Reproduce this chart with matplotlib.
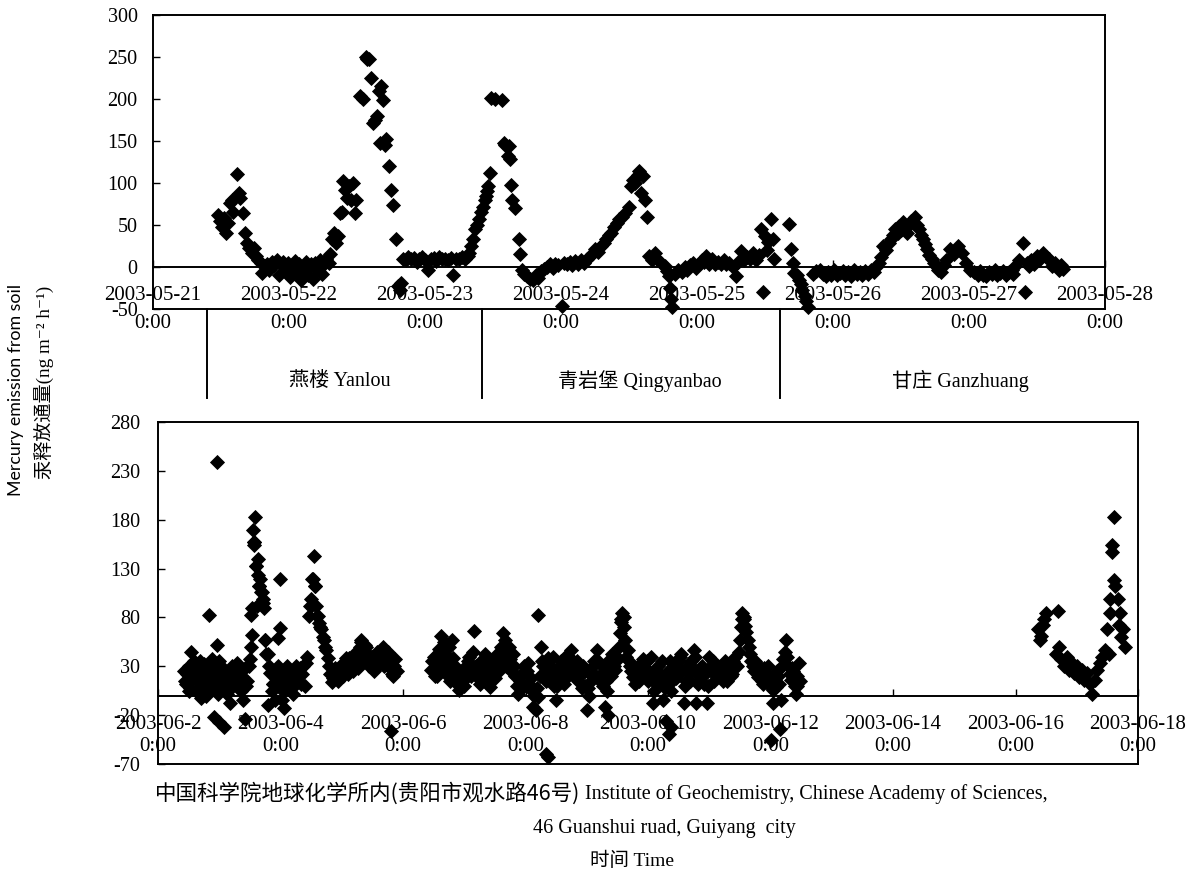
import matplotlib
matplotlib.use('Agg')
import matplotlib.pyplot as plt
import matplotlib.transforms as mtransforms
import pandas as pd

plt.rcParams['font.family'] = ['Liberation Serif', 'Noto Sans CJK SC', 'DejaVu Sans']
plt.rcParams['axes.unicode_minus'] = False

# ---------------- 上图: 三个站点 (小时, 自 2003-05-21 0:00 起) ----------------
top_start = pd.Timestamp('2003-05-21')

yanlou_h = [11.5, 11.8, 12.2, 12.5, 12.8, 13.2, 13.6, 13.9, 14.2, 14.8, 15.1, 15.4, 15.8, 16.2, 16.6,
            17.0, 17.4, 17.8, 18.2, 18.6, 19.0, 19.3, 19.7, 20.1, 20.5, 21.0, 21.4, 21.8, 22.2, 22.6,
            23.0, 23.4, 23.8, 24.2, 24.6, 25.0, 25.4, 25.8, 26.2, 26.6, 27.0, 27.4, 27.8, 28.2, 28.6,
            29.0, 29.4, 29.8, 30.2, 30.6, 31.0, 31.3, 31.6, 32.0, 32.3, 32.6, 33.0, 33.3, 33.6, 33.9,
            34.2, 34.6, 34.9, 35.3, 35.6, 35.9, 36.6, 37.0, 37.5, 37.8, 38.2, 38.5, 38.9, 39.2, 39.5,
            39.8, 40.0, 40.3, 40.6, 40.9, 41.2, 41.6, 42.0, 42.3, 42.8, 43.2, 43.5, 43.8, 44.2, 44.6,
            45.0, 45.5, 46.0, 46.5, 47.0, 47.5, 48.0, 48.5, 49.0, 49.5, 50.0, 50.5, 51.0, 51.5, 52.0,
            52.5, 53.0, 53.5, 54.0, 54.5, 55.0, 55.5, 55.8, 56.2, 56.5, 56.9, 57.2, 57.5, 57.8]
yanlou_v = [62, 55, 48, 58, 41, 52, 76, 80, 66, 111, 88, 82, 64, 41, 29,
            23, 17, 23, 13, 8, 5, -7, 1, 4, -3, 6, 2, 8, -10, 3,
            6, -4, 5, -12, 2, 7, -6, 4, -15, 0, 6, -10, 3, -14, 5,
            -4, 8, -8, 3, 10, 5, 15, 33, 41, 28, 37, 64, 66, 102, 92,
            82, 96, 80, 100, 64, 80, 203, 200, 250, 248, 248, 225, 171, 175, 180,
            209, 148, 215, 199, 145, 152, 120, 92, 74, 33, -23, -27, -19, 10, 8,
            12, 9, 11, 6, 10, 12, 8, -3, 10, 11, 7, 12, 9, 10, 8,
            11, -9, 10, 9, 12, 10, 13, 17, 25, 33, 45, 50, 57, 65]

qingyanbao_h = [58.2, 58.5, 58.7, 59.0, 59.2, 59.5, 59.6, 60.3, 61.6, 61.9, 62.2, 62.6, 62.9, 63.0, 63.1,
                63.4, 63.9, 64.5, 64.8, 65.1, 65.5, 66.0, 66.5, 67.1, 67.6, 68.0, 68.5, 69.0, 69.5, 70.0,
                70.5, 71.0, 71.5, 72.1, 72.5, 73.0, 73.5, 74.0, 74.5, 75.0, 75.5, 76.0, 76.5, 77.0, 77.5,
                78.0, 78.5, 79.0, 79.5, 80.0, 80.5, 80.9, 81.3, 81.8, 82.3, 82.8, 83.3, 84.0, 84.4, 84.7,
                85.1, 85.5, 85.8, 86.2, 86.5, 86.8, 87.2, 87.5, 88.0, 88.6, 89.0, 89.6, 90.3, 90.7, 91.0,
                91.2, 91.4, 91.6, 92.2, 92.7, 93.3, 93.8, 94.3, 94.8, 95.3, 95.8, 96.3, 96.8, 97.2, 97.6,
                98.1, 98.6, 99.1, 99.7, 100.2, 100.7, 101.2, 101.7, 102.3, 102.8, 103.3, 103.8, 104.3, 104.8, 105.4,
                105.9, 106.4, 106.9, 107.3, 107.6, 108.0, 108.3, 108.6, 109.0, 109.4, 109.6]
qingyanbao_v = [72, 80, 84, 90, 96, 112, 201, 200, 199, 148, 145, 132, 144, 128, 98,
                80, 70, 33, 15, -3, -8, -11, -14, -15, -10, -13, -5, -2, 0, 3,
                -1, 4, 2, -46, 5, 3, 6, 2, 7, 4, 8, 5, 10, 12, 16,
                21, 18, 25, 29, 33, 38, 41, 48, 52, 57, 60, 64, 72, 96, 104,
                100, 110, 114, 88, 108, 80, 59, 13, 8, 17, 10, 5, 1, -5, -11,
                -25, -38, -48, -8, -3, -6, 0, -4, 2, 5, -1, 4, 8, 6, 13,
                4, 9, 3, 6, 4, 8, 3, 5, 0, -11, 6, 19, 8, 12, 10,
                17, 8, 14, 45, -30, 37, 20, 30, 57, 33, 9]

ganzhuang_h = [112.2, 112.5, 112.9, 113.2, 113.6, 114.0, 114.3, 114.6, 115.0, 115.3, 115.6, 116.5, 117.0, 117.7, 118.2,
               118.7, 119.2, 119.7, 120.2, 120.7, 121.2, 121.7, 122.2, 122.7, 123.2, 123.7, 124.2, 124.7, 125.2, 125.7,
               126.2, 126.7, 127.2, 127.6, 128.1, 128.5, 128.8, 129.3, 129.8, 130.3, 130.6, 131.0, 131.4, 131.7, 132.0,
               132.3, 132.7, 133.0, 133.4, 133.8, 134.4, 134.8, 135.1, 135.5, 135.8, 136.2, 136.5, 137.0, 137.4, 137.9,
               138.3, 138.6, 139.0, 139.5, 140.0, 140.7, 141.4, 142.1, 142.8, 143.5, 144.2, 144.9, 145.5, 146.0, 146.5,
               147.0, 147.5, 148.0, 148.5, 149.0, 149.5, 150.0, 150.5, 151.0, 151.5, 151.8, 152.1, 152.8, 153.5, 153.9,
               154.2, 154.6, 155.0, 155.5, 156.0, 156.5, 157.0, 157.5, 158.1, 158.7, 159.2, 159.8, 160.2, 160.5]
ganzhuang_v = [51, 21, 5, -7, -10, -15, -20, -27, -35, -40, -48, -8, -5, -3, -8,
               -11, -6, -9, -4, -10, -7, -5, -9, -6, -11, -4, -8, -6, -10, -5,
               -8, -3, -6, 0, 5, 12, 25, 20, 28, 33, 38, 45, 40, 49, 44,
               53, 48, 41, 50, 55, 59, 50, 45, 38, 33, 27, 21, 14, 9, 5,
               0, -3, -6, 2, 8, 21, 15, 25, 17, 5, -3, -6, -10, -5, -9,
               -11, -6, -8, -4, -10, -7, -5, -9, -6, -3, -8, 1, 8, 29, -30,
               5, 1, 8, 4, 13, 10, 17, 12, 9, 1, 5, -3, 2, -2]

stations = ['燕楼 Yanlou', '青岩堡 Qingyanbao', '甘庄 Ganzhuang']
station_edges_h = [9.5, 58.0, 110.6]
station_label_h = [33.0, 85.9, 142.4]

# ---------------- 下图: 地球化学所 (逐时/半时观测 + 离散点, 天, 自 2003-06-02 0:00 起) ----------------
low_start = pd.Timestamp('2003-06-02')

seg_a_start = '2003-06-02 10:00'
seg_a = [25, 12, 30, 18, 35, 5, 25, 10, 32, 0, 20, 8, 28, 15, 35, 10, 25, 2, 18, 30,
         12, 33, 20, 8, 28, 15, 37, 62, 183, 140, 119, 95, 57, 43, 23, 12, -5, 30, 19, 5,
         28, 10, 22, 2, 30, 15, 12, 30, 33, 81, 99, 143, 92, 74, 68, 57, 47, 30, 14, 22,
         19, 28, 24, 33, 28, 38, 30, 42, 35, 50, 40, 52, 38, 30, 40, 28, 45, 35, 50, 38,
         45, 28, 20, 37]
seg_a_half_start = '2003-06-02 10:30'
seg_a_half = [15, 22, 8, 28, 20, 14, 35, 18, 5, 25, 12, 30, 22, 2, 20, 28, 12, 22, 8, 25,
              18, 28, 5, 18, 10, 30, 50, 157, 133, 112, 106, 90, 43, 30, 5, 22, 12, 25, 8, 18,
              30, 15, 8, 25, 18, 28, 22, 10, 40, 92, 119, 112, 81, 70, 60, 50, 38, 22, 18, 28,
              15, 30, 20, 38, 22, 33, 25, 45, 28, 55, 35, 45, 30, 35, 25, 38, 32, 42, 30, 45,
              35, 22, 30, 25]

seg_b_start = '2003-06-06 11:00'
seg_b = [26, 40, 30, 48, 35, 55, 22, 50, 30, 20, 12, 6, 25, 10, 23, 40, 28, 66, 19, 12,
         30, 43, 20, 9, 30, 18, 43, 35, 64, 57, 45, 37, 43, 20, 2, 15, 23, 10, 33, 18,
         -12, -15, -1, 50, 30, 15, 38, 30, 10, -5, 22, 35, 12, 28, 40, 47, 20, 35, 30, 8,
         25, -15, 0, 20, 35, 47, 15, 30, -12, 5, 25, 43, 26, 40, 64, 85, 57, 47, 30, 19,
         12, 30, 20, 37, 25, 15, 40, -8, 12, 30, 20, -5, 10, 25, 5, 30, 18, 35, 43, -8,
         15, 23, 35, 47, -8, 20, 30, 12, -8, 40, 25, 15, 30, 20, 23, 35, 15, 30, 22, 40,
         30, 57, 85, 71, 57, 43, 30, 35, 19, 25, 12, 20, 30, 15, 6, 9, 20, -5, 37, 57,
         30, 16, 25, 2, 33]
seg_b_half_start = '2003-06-06 11:30'
seg_b_half = [35, 20, 42, 25, 45, 30, 40, 15, 38, 28, 18, 22, 15, 30, 35, 20, 45, 30, 25, 35,
              20, 28, 35, 15, 22, 40, 25, 50, 40, 30, 50, 25, 30, 10, 20, 8, 30, 25, 12, 5,
              0, 8, 20, 35, 20, 30, 22, 15, 25, 10, 30, 18, 40, 20, 30, 35, 28, 15, 20, 30,
              10, 8, 15, 30, 20, 35, 22, 10, 15, 35, 20, 30, 35, 50, 75, 70, 40, 35, 25, 22,
              20, 15, 30, 28, 35, 25, 20, 5, 25, 15, 35, 8, 18, 35, 15, 22, 28, 40, 25, 10,
              30, 15, 28, 40, 12, 28, 20, 25, 10, 30, 35, 20, 22, 30, 15, 28, 25, 20, 35, 30,
              45, 70, 78, 65, 50, 35, 25, 28, 30, 15, 28, 22, 20, 8, 15, 25, 12, 30, 45, 40,
              22, 28, 10, 20, 15]

seg_c1_start = '2003-06-16 09:00'
seg_c1 = [68, 61, 78, 85]

seg_c2_start = '2003-06-16 16:00'
seg_c2 = [43, 50, 37, 30, 40, 26, 33, 23, 30, 19, 26, 16, 23, 12, 2, 16, 26, 33, 40, 47,
          68, 99, 154, 112, 99, 85, 68, 50]

extra_d = [0.54, 0.84, 0.97, 0.97, 0.92, 1.00, 1.08, 1.17, 1.42, 0.50, 0.70, 0.58, 1.52, 1.54, 1.55,
           1.57, 1.56, 1.60, 1.63, 1.65, 1.69, 1.72, 1.61, 1.74, 1.80, 1.87, 1.96, 1.99, 1.99, 2.06,
           2.03, 2.53, 2.56, 2.59, 2.50, 3.80, 3.32, 3.39, 1.30, 1.25, 0.88, 0.78, 1.38,
           6.21, 6.33, 6.36, 4.62, 4.55, 4.80, 7.34, 7.56, 7.60, 8.34, 8.30, 8.37, 9.53, 9.56,
           10.00, 10.15, 10.04, 10.44, 4.85, 5.66, 6.45,
           14.40, 14.45, 14.70, 15.60, 15.57, 15.61, 15.55, 15.52, 15.69, 15.73]
extra_v = [45, 82, 239, 52, -22, -27, -32, -8, -24, 5, -2, 20, 82, 90, 169,
           157, 154, 133, 123, 112, 106, 99, 92, 57, -10, 12, 59, 69, 119, -13,
           -5, 119, 112, 81, 92, -36, 57, 50, 30, 20, 37, 30, -5,
           82, -60, -63, 61, 20, 57, -20, 78, 80, -39, -26, -32, 78, 80,
           -45, -34, -8, 10, 30, 38, 40,
           57, 72, 87, 183, 147, 118, 85, 43, 72, 60]

W, H = 1197, 880
fig = plt.figure(figsize=(W / 100, H / 100), dpi=100)
ax1 = fig.add_axes([153 / W, 1 - 309 / H, 952 / W, 294 / H])
ax2 = fig.add_axes([158 / W, 1 - 764 / H, 980 / W, 342 / H])

mk = dict(marker='D', linestyle='none', color='black', markersize=7.2, markeredgewidth=0.6)

for hh, vv in [(yanlou_h, yanlou_v), (qingyanbao_h, qingyanbao_v), (ganzhuang_h, ganzhuang_v)]:
    t = top_start + pd.to_timedelta(hh, unit='h')
    ax1.plot(t.to_pydatetime(), vv, clip_on=False, **mk)

for start, vals in [(seg_a_start, seg_a), (seg_a_half_start, seg_a_half),
                    (seg_b_start, seg_b), (seg_b_half_start, seg_b_half),
                    (seg_c1_start, seg_c1), (seg_c2_start, seg_c2)]:
    t = pd.date_range(start, periods=len(vals), freq='1h')
    ax2.plot(t.to_pydatetime(), vals, clip_on=False, **mk)
t = low_start + pd.to_timedelta(extra_d, unit='D')
ax2.plot(t.to_pydatetime(), extra_v, clip_on=False, **mk)


def setup(ax, t0, t1, step, ymin, ymax, ystep, lsp, ypad):
    ticks = pd.date_range(t0, t1, freq=step).to_pydatetime()
    ax.set_xlim(ticks[0], ticks[-1])
    ax.set_ylim(ymin, ymax)
    ax.set_yticks(range(ymin, ymax + 1, ystep))
    ax.set_xticks(ticks)
    ax.set_xticklabels(['%d-%02d-%d\n0:00' % (d.year, d.month, d.day) for d in ticks])
    for s in ax.spines.values():
        s.set_linewidth(1.4)
    ax.spines['bottom'].set_position(('data', 0))
    ax.plot([0, 1], [0, 0], transform=ax.transAxes, color='black', lw=1.4, clip_on=False)
    ax.tick_params(axis='x', direction='in', length=5, width=1, pad=14, labelsize=15)
    ax.tick_params(axis='y', direction='in', length=5, width=1, pad=ypad, labelsize=14.5)
    for lbl in ax.get_xticklabels():
        lbl.set_linespacing(lsp)


setup(ax1, '2003-05-21', '2003-05-28', '1D', -50, 300, 50, 1.62, 11)
setup(ax2, '2003-06-02', '2003-06-18', '2D', -70, 280, 50, 1.2, 13)

# 站点分隔框
tr = mtransforms.blended_transform_factory(ax1.transData, fig.transFigure)
for h in station_edges_h:
    e = top_start + pd.Timedelta(hours=h)
    ax1.plot([e, e], [1 - 309 / H, 1 - 398 / H], transform=tr, color='black', lw=1.4, clip_on=False)
for name, h in zip(stations, station_label_h):
    ax1.text(top_start + pd.Timedelta(hours=h), 1 - 381 / H, name, transform=tr,
             ha='center', va='center', fontsize=14.5)


def ftext(x, y, s, **kw):
    fig.text(x / W, 1 - y / H, s, **kw)


ftext(16, 390, 'Mercury emission from soil', rotation=90, ha='center', va='center',
      fontsize=12.8, family=['Lato', 'DejaVu Sans'])
ftext(45, 382, '汞释放通量(ng m⁻² h⁻¹)', rotation=90, ha='center', va='center', fontsize=13.8,
      family=['Liberation Serif', 'Noto Sans CJK SC', 'DejaVu Sans'])

ftext(155, 794, '中国科学院地球化学所内(贵阳市观水路46号)', ha='left', va='center', fontsize=15.5,
      family=['Noto Sans CJK SC', 'DejaVu Sans'])
ftext(585, 794, 'Institute of Geochemistry, Chinese Academy of Sciences,', ha='left', va='center',
      fontsize=14.5)
ftext(664, 828, '46 Guanshui ruad, Guiyang  city', ha='center', va='center', fontsize=14.5)
ftext(632, 861, '时间 Time', ha='center', va='center', fontsize=14)

fig.savefig('out.png', dpi=100)
